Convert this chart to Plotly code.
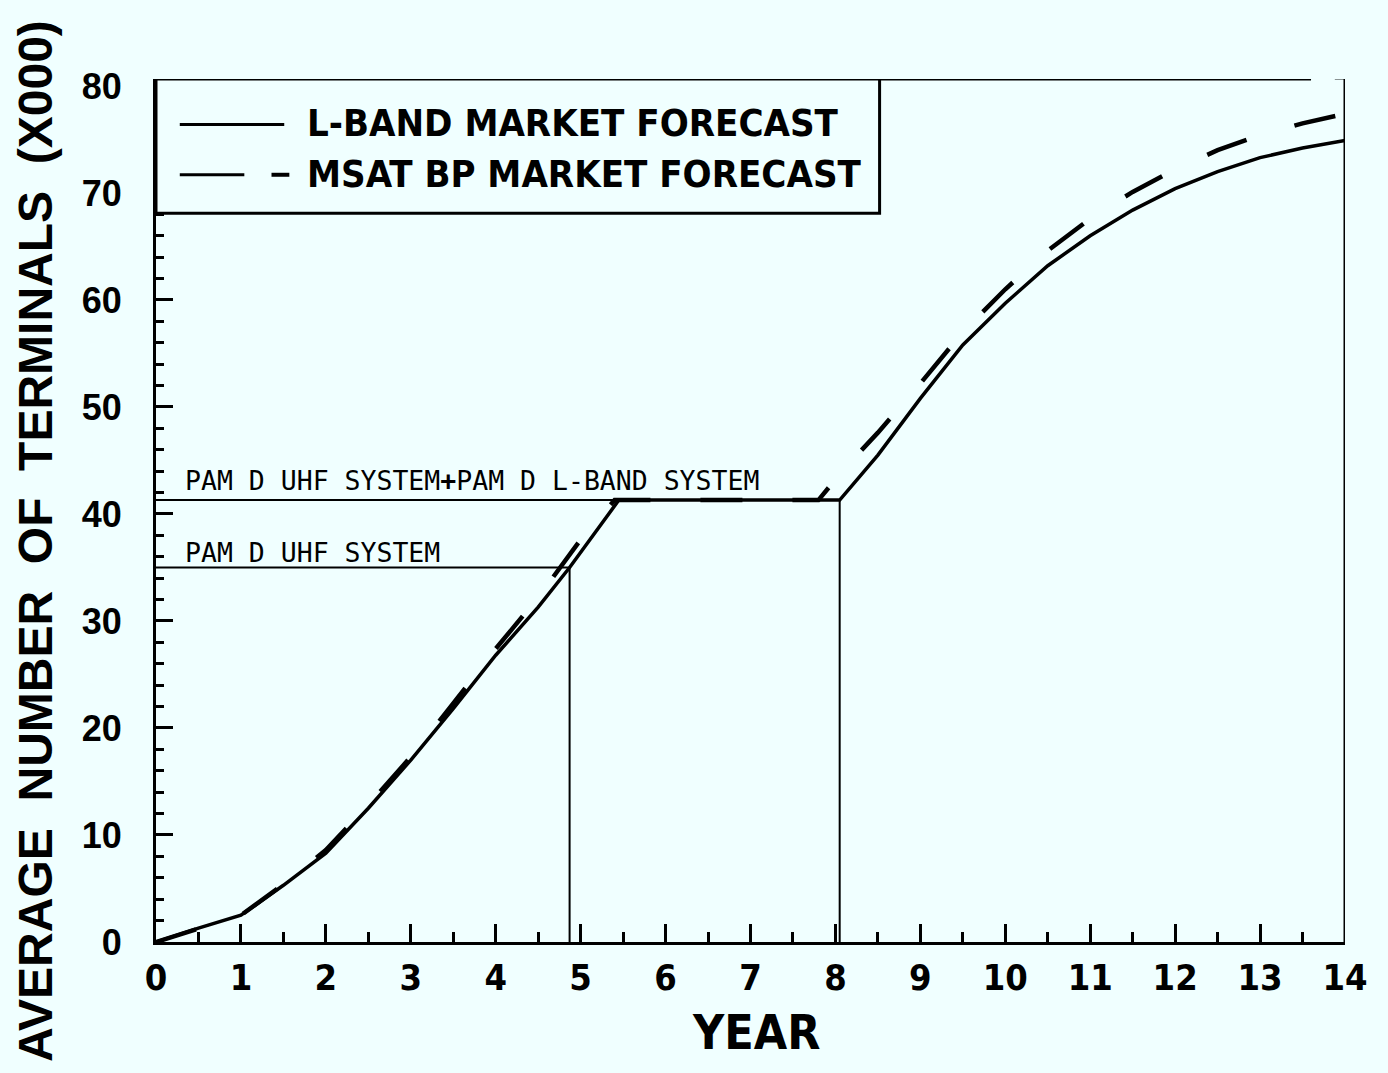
import plotly.graph_objects as go

# Forecast curves: average number of terminals (thousands) by year
years_lband = [0, 0.5, 1, 1.5, 2, 2.5, 3, 3.5, 4, 4.5, 4.87, 5.45, 8.05, 8.5, 9, 9.5,
               10, 10.5, 11, 11.5, 12, 12.5, 13, 13.5, 14]
terminals_lband = [0, 1.3, 2.5, 5.3, 8.3, 12.5, 17.0, 21.8, 26.8, 31.3, 35.0, 41.3, 41.3,
                   45.5, 50.8, 55.8, 59.7, 63.2, 66.0, 68.4, 70.4, 72.0, 73.3, 74.2, 74.9]

years_msat = [0, 0.5, 1, 1.5, 2, 2.5, 3, 3.5, 4, 4.5, 5, 5.4, 7.8, 8.1, 8.5, 9, 9.5,
              10, 10.5, 11, 11.5, 12, 12.5, 13, 13.5, 14]
terminals_msat = [0, 1.3, 2.5, 5.4, 8.6, 12.8, 17.3, 22.3, 27.4, 32.2, 37.6, 41.3, 41.3,
                  44.2, 47.6, 52.2, 57.0, 61.0, 64.6, 67.6, 70.1, 72.2, 74.0, 75.4, 76.5, 77.4]

# System capacities and the years they are reached
uhf_capacity, uhf_year = 35.0, 4.87
combined_capacity, combined_year = 41.3, 8.05

x_ticks = list(range(0, 15))
y_ticks = list(range(0, 81, 10))

BG = "#F0FFFF"
INK = "#000000"
Y_TOP = 80.65
COND = "DejaVu Sans Condensed, Liberation Sans, Arial"

fig = go.Figure()

# capacity markers
fig.add_trace(go.Scatter(
    x=[0, uhf_year, uhf_year], y=[uhf_capacity, uhf_capacity, 0],
    mode="lines", line=dict(color=INK, width=2), showlegend=False, hoverinfo="skip"))
fig.add_trace(go.Scatter(
    x=[0, combined_year, combined_year], y=[combined_capacity, combined_capacity, 0],
    mode="lines", line=dict(color=INK, width=2), showlegend=False, hoverinfo="skip"))

fig.add_trace(go.Scatter(
    x=years_msat, y=terminals_msat, mode="lines", name="MSAT BP MARKET FORECAST",
    line=dict(color=INK, width=4.5, dash="42px,50px"), showlegend=False))
fig.add_trace(go.Scatter(
    x=years_lband, y=terminals_lband, mode="lines", name="L-BAND MARKET FORECAST",
    line=dict(color=INK, width=3.5), showlegend=False))

shapes = [
    # right edge and top edge of the frame
    dict(type="line", xref="x", yref="y", x0=14, x1=14, y0=0, y1=Y_TOP,
         line=dict(color=INK, width=3)),
    dict(type="line", xref="x", yref="y", x0=0, x1=13.6, y0=Y_TOP, y1=Y_TOP,
         line=dict(color=INK, width=3)),
    dict(type="line", xref="x", yref="y", x0=13.88, x1=14, y0=Y_TOP + 0.1, y1=Y_TOP + 0.1,
         line=dict(color=INK, width=3)),
    # key box
    dict(type="rect", xref="x", yref="y", x0=0, x1=8.52, y0=68.1, y1=Y_TOP,
         fillcolor=BG, line=dict(color=INK, width=3), layer="above"),
    # key samples
    dict(type="line", xref="x", yref="y", x0=0.28, x1=1.51, y0=76.4, y1=76.4,
         line=dict(color=INK, width=3), layer="above"),
    dict(type="line", xref="x", yref="y", x0=0.28, x1=1.04, y0=71.7, y1=71.7,
         line=dict(color=INK, width=3), layer="above"),
    dict(type="line", xref="x", yref="y", x0=1.36, x1=1.57, y0=71.7, y1=71.7,
         line=dict(color=INK, width=4), layer="above"),
]

KEY_FONT = dict(family=COND, size=38, color=INK, weight="bold")
PLOT_FONT = dict(family="DejaVu Sans Mono, Liberation Mono, monospace", size=26.5, color=INK)

annotations = [
    dict(x=1.75, y=76.5, xref="x", yref="y", text="L-BAND MARKET FORECAST",
         showarrow=False, xanchor="left", yanchor="middle", font=KEY_FONT),
    dict(x=1.75, y=71.8, xref="x", yref="y", text="MSAT BP MARKET FORECAST",
         showarrow=False, xanchor="left", yanchor="middle", font=KEY_FONT),
    dict(x=0.32, y=41.45, xref="x", yref="y",
         text="PAM D UHF SYSTEM<b>+</b>PAM D L-BAND SYSTEM",
         showarrow=False, xanchor="left", yanchor="bottom", font=PLOT_FONT),
    dict(x=0.32, y=34.75, xref="x", yref="y", text="PAM D UHF SYSTEM",
         showarrow=False, xanchor="left", yanchor="bottom", font=PLOT_FONT),
    dict(x=-0.1015, y=0.465, xref="paper", yref="paper",
         text="AVERAGE  NUMBER  OF  TERMINALS  (X000)", textangle=-90,
         showarrow=False, xanchor="center", yanchor="middle",
         font=dict(family="Liberation Sans, Arial", size=48, color=INK, weight="bold")),
    dict(x=0.5046, y=-0.104, xref="paper", yref="paper", text="YEAR",
         showarrow=False, xanchor="center", yanchor="middle",
         font=dict(family=COND, size=48, color=INK, weight="bold")),
]

fig.update_layout(
    width=1388, height=1073,
    margin=dict(l=156, r=43, t=79, b=131),
    paper_bgcolor=BG, plot_bgcolor=BG,
    shapes=shapes, annotations=annotations,
    showlegend=False,
)

fig.update_xaxes(
    range=[0, 14], tickvals=x_ticks, ticktext=[str(v) for v in x_ticks],
    showgrid=False, zeroline=False, showline=True, linecolor=INK, linewidth=3,
    ticks="inside", ticklen=18, tickwidth=3, tickcolor=INK,
    minor=dict(dtick=0.5, tick0=0, ticks="inside", ticklen=10, tickwidth=3,
               tickcolor=INK, showgrid=False),
    tickfont=dict(family=COND, size=36, color=INK, weight="bold"),
    ticklabelstandoff=2,
)
fig.update_yaxes(
    range=[0, Y_TOP], tickvals=y_ticks, ticktext=[str(v) for v in y_ticks],
    showgrid=False, zeroline=False, showline=True, linecolor=INK, linewidth=3,
    ticks="inside", ticklen=17, tickwidth=3, tickcolor=INK,
    minor=dict(dtick=2, tick0=0, ticks="inside", ticklen=8, tickwidth=3,
               tickcolor=INK, showgrid=False),
    tickfont=dict(family="Liberation Sans, Arial", size=36, color=INK, weight="bold"),
    ticklabelstandoff=24,
)

fig.write_html("out.html")
